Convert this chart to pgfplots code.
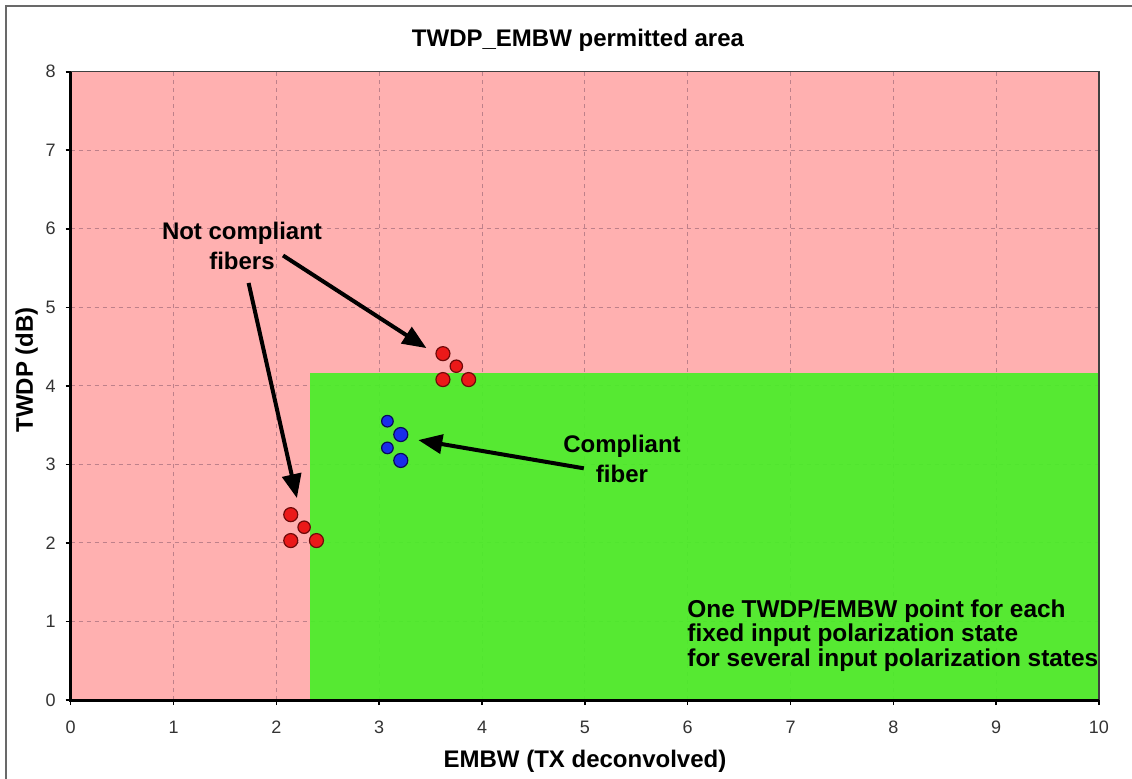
\documentclass[border=0pt]{standalone}
\usepackage{pgfplots}
\pgfplotsset{compat=1.18}
\usepackage{fontspec}
\setmainfont{Liberation Sans}
\usetikzlibrary{arrows.meta}
\definecolor{pinkc}{RGB}{255,176,176}
\definecolor{greenc}{RGB}{72,238,40}
\definecolor{gridc}{RGB}{190,128,138}
\definecolor{redc}{RGB}{235,25,25}
\definecolor{redd}{RGB}{110,10,10}
\definecolor{bluec}{RGB}{25,45,235}
\definecolor{blued}{RGB}{10,10,90}
\definecolor{framec}{RGB}{105,105,105}
\newcommand{\Px}[2]{({(#1-70.7)*0.5pt},{(700-#2)*0.5pt})}
\begin{document}
\begin{tikzpicture}
\useasboundingbox \Px{0}{0} rectangle \Px{1132}{778};
\draw[framec, line width=1pt] \Px{6}{790} -- \Px{6}{6} -- \Px{1140}{6};
\begin{axis}[
  at={(0,0)}, anchor=south west,
  scale only axis, width=514.15pt, height=314.15pt,
  xmin=0, xmax=10, ymin=0, ymax=8,
  xtick={0,1,...,10}, ytick={0,1,...,8},
  tick pos=left, tick align=outside,
  major tick length=2.5pt,
  tick style={black, line width=0.8pt},
  axis line style={draw=none},
  grid=major,
  major grid style={gridc, line width=0.5pt, dash pattern=on 2pt off 2pt},
  axis background/.style={fill=pinkc},
  /pgf/number format/assume math mode=true,
  ticklabel style={font=\fontsize{9}{10}\selectfont, text=black!80},
  xticklabel style={yshift=-4.5pt},
  yticklabel style={xshift=-1.5pt},
  clip=false,
]
\addplot[fill=greenc, draw=none, fill opacity=0.92] coordinates {(2.33,0) (2.33,4.17) (10,4.17) (10,0)} --cycle;
% border lines
\draw[black!75, line width=0.7pt] (axis cs:0,8) -- (axis cs:10,8) -- (axis cs:10,0);
\draw[black, line width=1.5pt] (axis cs:0,8) -- (axis cs:0,0) -- (axis cs:10,0);
% arrows
\draw[black, line width=2pt, -{Triangle[length=12pt,width=9.5pt]}] (axis cs:2.065,5.66) -- (axis cs:3.46,4.48);
\draw[black, line width=2pt, -{Triangle[length=12pt,width=9.5pt]}] (axis cs:1.73,5.31) -- (axis cs:2.20,2.57);
\draw[black, line width=2pt, -{Triangle[length=12pt,width=9.5pt]}] (axis cs:4.99,2.95) -- (axis cs:3.38,3.31);
% red points (not compliant)
\addplot[only marks, mark=*, mark size=3.5pt, mark options={fill=redc, draw=redd, line width=0.6pt}]
  coordinates {(2.14,2.36) (2.14,2.03) (2.39,2.03) (3.62,4.41) (3.62,4.08) (3.87,4.08)};
\addplot[only marks, mark=*, mark size=3.1pt, mark options={fill=redc, draw=redd, line width=0.6pt}]
  coordinates {(2.27,2.20) (3.75,4.25)};
% blue points (compliant)
\addplot[only marks, mark=*, mark size=2.9pt, mark options={fill=bluec, draw=blued, line width=0.6pt}]
  coordinates {(3.08,3.55) (3.08,3.21)};
\addplot[only marks, mark=*, mark size=3.5pt, mark options={fill=bluec, draw=blued, line width=0.6pt}]
  coordinates {(3.21,3.38) (3.21,3.05)};
\end{axis}
\node[anchor=base, font=\bfseries\fontsize{12}{14}\selectfont] at \Px{578}{47} {TWDP\_EMBW permitted area};
\node[anchor=base, font=\bfseries\fontsize{12}{14}\selectfont] at \Px{585}{768} {EMBW (TX deconvolved)};
\node[anchor=base, rotate=90, font=\bfseries\fontsize{12}{14}\selectfont] at \Px{33}{370} {TWDP (dB)};
\node[anchor=base, font=\bfseries\fontsize{12}{14}\selectfont] at \Px{242}{240} {Not compliant};
\node[anchor=base, font=\bfseries\fontsize{12}{14}\selectfont] at \Px{242}{270} {fibers};
\node[anchor=base, font=\bfseries\fontsize{12}{14}\selectfont] at \Px{622}{453} {Compliant};
\node[anchor=base, font=\bfseries\fontsize{12}{14}\selectfont] at \Px{622}{483} {fiber};
\node[anchor=base west, inner sep=0pt, font=\bfseries\fontsize{12.2}{14}\selectfont] at \Px{687}{617} {One TWDP/EMBW point for each};
\node[anchor=base west, inner sep=0pt, font=\bfseries\fontsize{12.2}{14}\selectfont] at \Px{687}{642} {fixed input polarization state};
\node[anchor=base west, inner sep=0pt, font=\bfseries\fontsize{12.2}{14}\selectfont] at \Px{687}{667} {for several input polarization states};
\end{tikzpicture}
\end{document}
